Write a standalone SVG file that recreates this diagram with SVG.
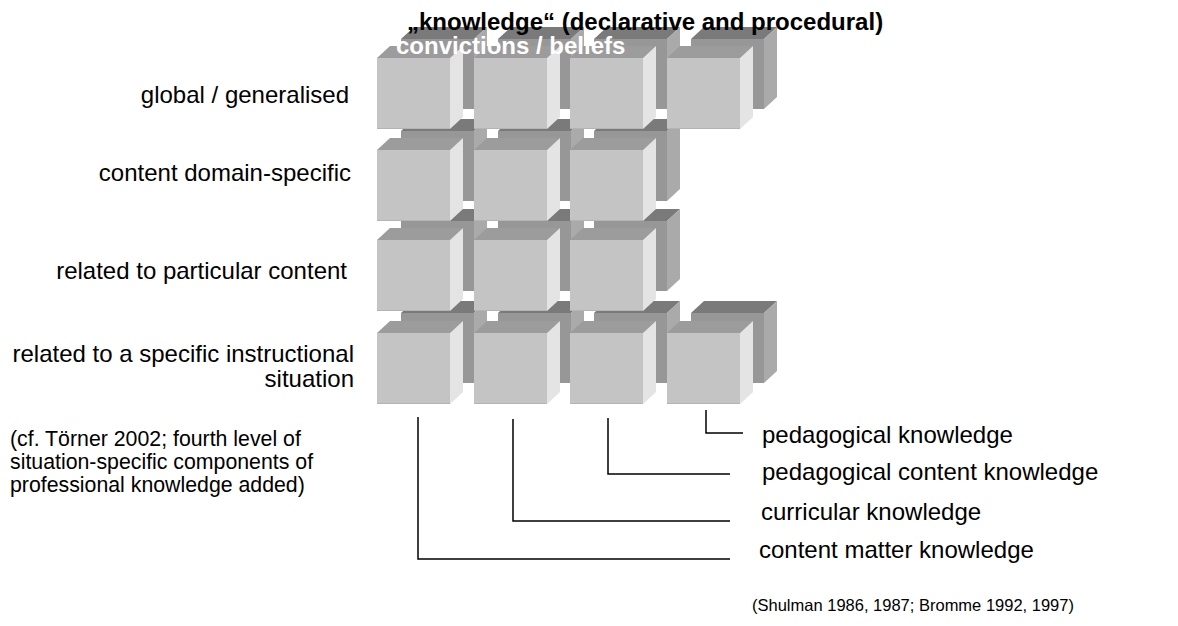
<svg xmlns="http://www.w3.org/2000/svg" xmlns:xlink="http://www.w3.org/1999/xlink" width="1178" height="626" viewBox="0 0 1178 626">
<style>
.ff{fill:#c4c4c4}
.ft{fill:#9c9c9c}
.fs{fill:#e4e4e4}
.bf{fill:#979797}
.bt{fill:#7a7a7a}
.bs{fill:#aaaaaa}
.lbl{font-family:"Liberation Sans",Arial,sans-serif;font-size:24px;fill:#000}
.note{font-family:"Liberation Sans",Arial,sans-serif;font-size:21.3px;fill:#000}
.cite{font-family:"Liberation Sans",Arial,sans-serif;font-size:16.5px;fill:#000}
.title{font-family:"Liberation Sans",Arial,sans-serif;font-size:24px;font-weight:bold}
.conn{fill:none;stroke:#000;stroke-width:1.5}
</style>
<defs>
<g id="cubeB">
<polygon class="bt" points="0,0 73,0 86,-12 13,-12"/>
<polygon class="bs" points="73,0 86,-12 86,58 73,70"/>
<rect class="bf" x="0" y="0" width="73" height="70"/>
</g>
<g id="cubeF">
<polygon class="ft" points="0,0 73,0 86,-12 13,-12"/>
<polygon class="fs" points="73,0 86,-12 86,59 73,71"/>
<rect class="ff" x="0" y="0" width="73" height="71"/>
<line x1="0" y1="70.5" x2="73" y2="70.5" stroke="#b4b4b4" stroke-width="1"/>
</g>
</defs>
<g id="back-cubes">
<use id="b11" xlink:href="#cubeB" x="401" y="39"/>
<use id="b12" xlink:href="#cubeB" x="498" y="39"/>
<use id="b13" xlink:href="#cubeB" x="594" y="39"/>
<use id="b14" xlink:href="#cubeB" x="691" y="39"/>
<use id="b21" xlink:href="#cubeB" x="401" y="131"/>
<use id="b22" xlink:href="#cubeB" x="498" y="131"/>
<use id="b23" xlink:href="#cubeB" x="594" y="131"/>
<use id="b31" xlink:href="#cubeB" x="401" y="221"/>
<use id="b32" xlink:href="#cubeB" x="498" y="221"/>
<use id="b33" xlink:href="#cubeB" x="594" y="221"/>
<use id="b41" xlink:href="#cubeB" x="401" y="313"/>
<use id="b42" xlink:href="#cubeB" x="498" y="313"/>
<use id="b43" xlink:href="#cubeB" x="594" y="313"/>
<use id="b44" xlink:href="#cubeB" x="691" y="313"/>
</g>
<g id="front-cubes">
<use id="f11" xlink:href="#cubeF" x="377" y="58"/>
<use id="f12" xlink:href="#cubeF" x="474" y="58"/>
<use id="f13" xlink:href="#cubeF" x="570" y="58"/>
<use id="f14" xlink:href="#cubeF" x="667" y="58"/>
<use id="f21" xlink:href="#cubeF" x="377" y="150"/>
<use id="f22" xlink:href="#cubeF" x="474" y="150"/>
<use id="f23" xlink:href="#cubeF" x="570" y="150"/>
<use id="f31" xlink:href="#cubeF" x="377" y="240"/>
<use id="f32" xlink:href="#cubeF" x="474" y="240"/>
<use id="f33" xlink:href="#cubeF" x="570" y="240"/>
<use id="f41" xlink:href="#cubeF" x="377" y="333"/>
<use id="f42" xlink:href="#cubeF" x="474" y="333"/>
<use id="f43" xlink:href="#cubeF" x="570" y="333"/>
<use id="f44" xlink:href="#cubeF" x="667" y="333"/>
</g>
<g id="connectors">
<polyline class="conn" points="418,417 418,559 730,559"/>
<polyline class="conn" points="513,419 513,521 730,521"/>
<polyline class="conn" points="608,418 608,474 730,474"/>
<polyline class="conn" points="706,410 706,433 743,433"/>
</g>
<g id="header">
<text class="title" x="407" y="30" fill="#000">„knowledge“ (declarative and procedural)</text>
<text class="title" x="396" y="54" fill="#fff">convictions / beliefs</text>
</g>
<g id="level-labels">
<text class="lbl" x="349" y="103" text-anchor="end">global / generalised</text>
<text class="lbl" x="351" y="181" text-anchor="end">content domain-specific</text>
<text class="lbl" x="347" y="279" text-anchor="end">related to particular content</text>
<text class="lbl" x="354" y="362" text-anchor="end">related to a specific instructional</text>
<text class="lbl" x="354" y="387" text-anchor="end">situation</text>
</g>
<g id="note-left">
<text class="note" x="10" y="446">(cf. Törner 2002; fourth level of</text>
<text class="note" x="10" y="469">situation-specific components of</text>
<text class="note" x="10" y="492">professional knowledge added)</text>
</g>
<g id="knowledge-labels">
<text class="lbl" x="762" y="443">pedagogical knowledge</text>
<text class="lbl" x="762" y="480">pedagogical content knowledge</text>
<text class="lbl" x="761" y="520">curricular knowledge</text>
<text class="lbl" x="759" y="558">content matter knowledge</text>
</g>
<g id="citation">
<text class="cite" x="752" y="611">(Shulman 1986, 1987; Bromme 1992, 1997)</text>
</g>
</svg>
